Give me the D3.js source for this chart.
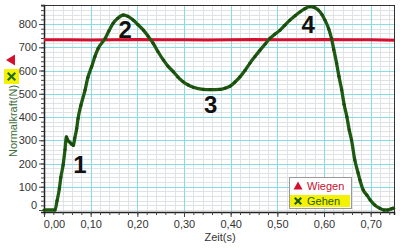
<!DOCTYPE html>
<html><head><meta charset="utf-8">
<script src="https://cdn.jsdelivr.net/npm/d3@7"></script>
<style>body{margin:0;background:#fff;} svg{display:block;font-family:"Liberation Sans",Arial,sans-serif;}</style>
</head><body><svg id="c" width="400" height="248"></svg>
<script>
// Gehen (walking) series: time (s) and normal force (N)
const gehenT = [0,0.0236,0.028,0.033,0.036,0.041,0.045,0.048,0.051,0.056,0.060,0.063,0.066,0.070,0.073,0.079,0.088,0.094,0.102,0.109,0.116,0.131,0.139,0.148,0.158,0.170,0.180,0.191,0.201,0.213,0.223,0.234,0.244,0.256,0.266,0.277,0.287,0.298,0.309,0.320,0.341,0.356,0.377,0.388,0.399,0.409,0.420,0.431,0.441,0.452,0.463,0.474,0.484,0.495,0.506,0.516,0.527,0.538,0.549,0.559,0.570,0.579,0.588,0.596,0.602,0.610,0.616,0.621,0.627,0.632,0.638,0.643,0.649,0.654,0.659,0.666,0.673,0.677,0.684,0.692,0.699,0.709,0.720,0.728,0.737,0.744,0.749];
const gehenV = [0,0,40,93,140,194,260,315,300,290,282,278,310,350,394,450,516,570,616,660,695,738,770,803,825,839,833,817,798,774,748,717,682,645,618,595,572,552,538,528,519,518,519,524,533,550,573,601,631,660,688,714,738,757,774,795,817,836,853,866,875,872,860,840,817,780,738,690,631,575,516,455,401,345,301,215,160,129,86,64,43,21,7,0,0,5,8];
// Wiegen (weighing) series
const wiegenT = [0,0.05,0.10,0.15,0.20,0.25,0.30,0.35,0.40,0.45,0.50,0.55,0.60,0.65,0.70,0.75];
const wiegenV = [732,733,731,733,734,732,733,731,733,734,732,733,734,732,733,730];
const xTicks = [0,0.1,0.2,0.3,0.4,0.5,0.6,0.7];
const yTicks = [0,100,200,300,400,500,600,700,800];
const annotations = [{t:"1",x:0.077,y:160},{t:"2",x:0.174,y:740},{t:"3",x:0.357,y:417},{t:"4",x:0.566,y:760}];

const svg = d3.select("#c");
const L=44,R=394,T=5,B=212;
const x = d3.scaleLinear().domain([0,0.75]).range([L,R]);
const y = d3.scaleLinear().domain([-8.6,882]).range([B,T]);

// minor grid
const g = svg.append("g");
g.selectAll(".vx").data(d3.range(0,0.7501,0.02)).enter().append("line")
 .attr("x1",d=>Math.round(x(d))+0.5).attr("x2",d=>Math.round(x(d))+0.5).attr("y1",T).attr("y2",B)
 .attr("stroke","#dfe3e6").attr("stroke-width",1);
g.selectAll(".hy").data(d3.range(0,881,20)).enter().append("line")
 .attr("y1",d=>Math.round(y(d))+0.5).attr("y2",d=>Math.round(y(d))+0.5).attr("x1",L).attr("x2",R)
 .attr("stroke","#dfe3e6").attr("stroke-width",1);
// major grid
g.selectAll(".mx").data(xTicks.slice(1)).enter().append("line")
 .attr("x1",d=>Math.round(x(d))+0.5).attr("x2",d=>Math.round(x(d))+0.5).attr("y1",T).attr("y2",B)
 .attr("stroke","#86dde6").attr("stroke-width",1);
g.selectAll(".my").data(yTicks.slice(1)).enter().append("line")
 .attr("y1",d=>Math.round(y(d))+0.5).attr("y2",d=>Math.round(y(d))+0.5).attr("x1",L).attr("x2",R)
 .attr("stroke","#86dde6").attr("stroke-width",1);

// frame
svg.append("rect").attr("x",L+0.5).attr("y",T+0.5).attr("width",R-L).attr("height",B-T)
 .attr("fill","none").attr("stroke","#333").attr("stroke-width",1);

// axes
const xAxis = d3.axisBottom(x).tickValues(d3.range(0,0.7501,0.02)).tickSize(3).tickFormat("");
svg.append("g").attr("transform",`translate(0,${B})`).call(xAxis).call(a=>{a.select(".domain").attr("stroke","#222").attr("stroke-width",1.5);a.selectAll("line").attr("stroke","#444");});
const xAxisM = d3.axisBottom(x).tickValues(xTicks).tickSize(5).tickFormat(d=>d3.format(".2f")(d).replace(".",","));
svg.append("g").attr("transform",`translate(0,${B})`).call(xAxisM).call(a=>{
  a.select(".domain").remove(); a.selectAll("line").attr("stroke","#444");
  a.selectAll("text").attr("font-size",11).attr("fill","#333").attr("dy","0.95em").attr("y",6)
   .attr("dx",d=>d===0?10:0);
});
const yAxis = d3.axisLeft(y).tickValues(d3.range(0,881,20)).tickSize(3).tickFormat("");
svg.append("g").attr("transform",`translate(${L},0)`).call(yAxis).call(a=>{a.select(".domain").attr("stroke","#222").attr("stroke-width",1.5);a.selectAll("line").attr("stroke","#444");});
const yAxisM = d3.axisLeft(y).tickValues(yTicks).tickSize(5).tickFormat(d3.format("d"));
svg.append("g").attr("transform",`translate(${L},0)`).call(yAxisM).call(a=>{
  a.select(".domain").remove(); a.selectAll("line").attr("stroke","#444");
  a.selectAll("text").attr("font-size",11).attr("fill","#333").attr("x",-7).attr("dy",d=>d===0?"-0.15em":"0.32em");
});

// Wiegen line
const wData = wiegenT.map((t,i)=>[t,wiegenV[i]]);
svg.append("path").datum(wData).attr("d",d3.line().x(d=>x(d[0])).y(d=>y(d[1])))
 .attr("fill","none").attr("stroke","#d5102e").attr("stroke-width",3);

// Gehen line
const gData = gehenT.map((t,i)=>[t,gehenV[i]]);
svg.append("path").datum(gData).attr("d",d3.line().x(d=>x(d[0])).y(d=>y(d[1])).curve(d3.curveMonotoneX))
 .attr("fill","none").attr("stroke","#1f5a12").attr("stroke-width",3.3);
svg.selectAll(".pt").data(gData).enter().append("circle")
 .attr("cx",d=>x(d[0])).attr("cy",d=>y(d[1])).attr("r",1.6).attr("fill","#184a0c");

// annotations
svg.selectAll(".an").data(annotations).enter().append("text")
 .attr("x",d=>x(d.x)).attr("y",d=>y(d.y)).attr("text-anchor","middle")
 .attr("font-size",24).attr("font-weight","bold").attr("fill","#111").text(d=>d.t);

// axis titles
svg.append("text").attr("x",220).attr("y",241).attr("text-anchor","middle").attr("font-size",11).attr("fill","#333").text("Zeit(s)");
svg.append("text").attr("transform","translate(17,121) rotate(-90)").attr("text-anchor","middle")
 .attr("font-size",11).attr("fill","#3c6e3c").text("Normalkraft(N)");
// side legend markers
svg.append("path").attr("d","M6,60 L15,54.5 L15,65.5 Z").attr("fill","#d5102e");
svg.append("rect").attr("x",4).attr("y",69).attr("width",15).attr("height",15).attr("fill","#f4f200");
const xMark = (cx,cy,s)=>`M${cx-s},${cy-s+1.5} L${cx-s+1.5},${cy-s} L${cx},${cy-1.5} L${cx+s-1.5},${cy-s} L${cx+s},${cy-s+1.5} L${cx+1.5},${cy} L${cx+s},${cy+s-1.5} L${cx+s-1.5},${cy+s} L${cx},${cy+1.5} L${cx-s+1.5},${cy+s} L${cx-s},${cy+s-1.5} L${cx-1.5},${cy} Z`;
svg.append("path").attr("d",xMark(11.5,76.5,4.5)).attr("fill","#1f6a12");

// legend box
const lg = svg.append("g");
lg.append("rect").attr("x",289.5).attr("y",177.5).attr("width",62).attr("height",31).attr("fill","#fff").attr("stroke","#999");
lg.append("rect").attr("x",290).attr("y",195).attr("width",60).attr("height",12).attr("fill","#f4f200");
lg.append("path").attr("d","M298,181.5 L302.5,189.5 L293.5,189.5 Z").attr("fill","#d5102e");
lg.append("text").attr("x",307).attr("y",190).attr("font-size",11).attr("fill","#c8102e").text("Wiegen");
lg.append("path").attr("d",xMark(298,201,4)).attr("fill","#1f5a12");
lg.append("text").attr("x",307).attr("y",205).attr("font-size",11).attr("fill","#2a5a1a").text("Gehen");
</script></body></html>
